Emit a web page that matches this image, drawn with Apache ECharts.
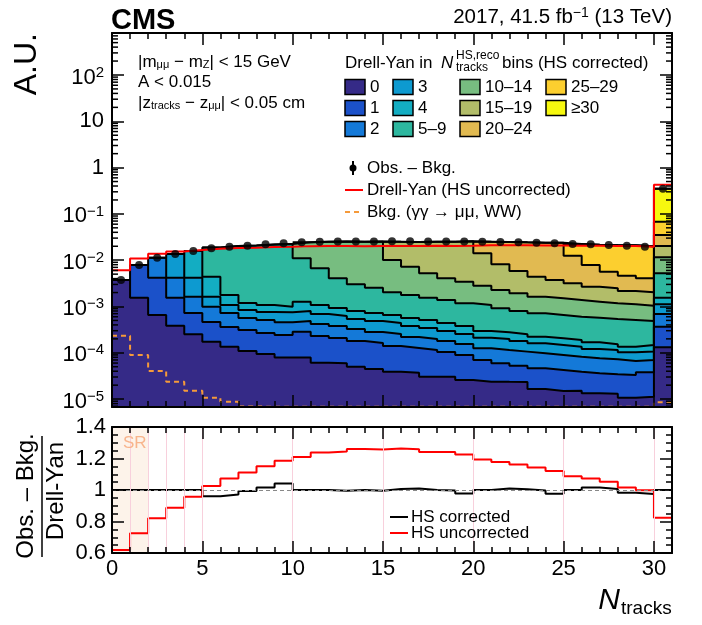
<!DOCTYPE html>
<html><head><meta charset="utf-8">
<script src="https://cdn.jsdelivr.net/npm/echarts@6/dist/echarts.min.js"></script>
<style>html,body{margin:0;padding:0;background:#fff}#c{width:702px;height:625px}</style>
</head><body><div id="c"></div>
<script>
// ---------------- data ----------------
const binLowEdges = [0,1,2,3,4,5,6,7,8,9,10,11,12,13,14,15,16,17,18,19,20,21,22,23,24,25,26,27,28,29,30];
const categoryNames = ['0','1','2','3','4','5–9','10–14','15–19','20–24','25–29','≥30'];
const categoryFirstBin = [0,1,2,3,4,5,10,15,20,25,30];
// upper edge of the stack after adding each category (starting at its first bin)
const stackTop0 = [3.73e-3,1.55e-3,6.55e-4,3.85e-4,2.51e-4,1.74e-4,1.355e-4,1.094e-4,9.42e-5,7.91e-5,7.88e-5,6.11e-5,5.93e-5,5.01e-5,4.47e-5,3.91e-5,3.72e-5,3.05e-5,3.02e-5,2.59e-5,2.38e-5,2.36e-5,2.35e-5,1.65e-5,1.50e-5,1.52e-5,1.33e-5,1.31e-5,1.07e-5,1.13e-5,1.315e-4];
const stackTop1 = [7.87e-3,4.19e-3,1.55e-3,7.24e-4,4.62e-4,3.61e-4,3.11e-4,2.68e-4,2.42e-4,2.86e-4,2.31e-4,2.09e-4,1.80e-4,1.63e-4,1.40e-4,1.27e-4,1.15e-4,1.04e-4,8.96e-5,6.98e-5,5.93e-5,5.26e-5,4.62e-5,4.25e-5,3.91e-5,3.61e-5,3.43e-5,3.32e-5,3.79e-5,3.66e-4];
const stackTop2 = [1.132e-2,4.19e-3,1.63e-3,9.9e-4,7.24e-4,5.65e-4,5.11e-4,4.56e-4,4.86e-4,4.19e-4,3.79e-4,3.27e-4,2.81e-4,2.55e-4,2.19e-4,1.99e-4,1.80e-4,1.55e-4,1.25e-4,1.15e-4,1.06e-4,9.75e-5,8.96e-5,8.24e-5,7.6e-5,7.24e-5,6.65e-5,6.98e-5,6.89e-4];
const stackTop3 = [1.361e-2,4.19e-3,1.63e-3,1.077e-3,8.4e-4,7.6e-4,7.5e-4,8.0e-4,6.89e-4,6.24e-4,5.37e-4,4.86e-4,4.40e-4,3.79e-4,3.43e-4,2.96e-4,2.55e-4,2.12e-4,1.99e-4,1.80e-4,1.60e-4,1.47e-4,1.355e-4,1.21e-4,1.15e-4,1.025e-4,1.06e-4,1.116e-3];
const stackTop4 = [1.58e-2,4.40e-3,1.77e-3,1.19e-3,1.077e-3,9.9e-4,1.27e-3,1.077e-3,9.29e-4,8.0e-4,7.24e-4,6.55e-4,5.65e-4,5.11e-4,4.40e-4,3.79e-4,2.96e-4,2.77e-4,2.51e-4,2.23e-4,2.06e-4,1.89e-4,1.69e-4,1.53e-4,1.355e-4,1.47e-4,1.55e-3];
const stackTop5 = [1.88e-2,2.014e-2,2.07e-2,2.17e-2,2.226e-2,1.099e-2,6.68e-3,4.06e-3,3.01e-3,2.55e-3,2.03e-3,1.77e-3,1.55e-3,1.38e-3,1.17e-3,1.077e-3,9.14e-4,8.0e-4,7.13e-4,6.55e-4,6.02e-4,5.73e-4,5.37e-4,5.11e-4,4.86e-4,5.21e-3];
const stackTop6 = [2.436e-2,2.51e-2,2.52e-2,2.51e-2,2.52e-2,1.01e-2,7.24e-3,5.21e-3,4.06e-3,3.43e-3,2.81e-3,2.27e-3,1.93e-3,1.63e-3,1.50e-3,1.38e-3,1.27e-3,1.17e-3,1.116e-3,1.04e-3,1.155e-2];
const stackTop7 = [2.495e-2,2.485e-2,2.51e-2,2.517e-2,2.567e-2,1.41e-2,8.15e-3,5.85e-3,4.40e-3,3.73e-3,3.17e-3,2.68e-3,2.47e-3,2.16e-3,2.03e-3,2.03e-2];
const stackTop8 = [2.51e-2,2.485e-2,2.426e-2,2.387e-2,2.377e-2,1.25e-2,7.87e-3,5.65e-3,4.62e-3,4.06e-3,3.50e-2];
const stackTop9 = [2.24e-2,2.165e-2,2.117e-2,2.098e-2,2.012e-2,6.79e-2];
const stackTop10 = [0.35];
const obsMinusBkg = [3.73e-3,7.87e-3,1.132e-2,1.361e-2,1.58e-2,1.807e-2,1.958e-2,2.056e-2,2.205e-2,2.317e-2,2.436e-2,2.50e-2,2.52e-2,2.53e-2,2.54e-2,2.55e-2,2.55e-2,2.54e-2,2.53e-2,2.52e-2,2.50e-2,2.48e-2,2.436e-2,2.38e-2,2.32e-2,2.24e-2,2.2e-2,2.13e-2,2.06e-2,1.96e-2,0.35];
const dyUncorrected = [6.03e-3,1.086e-2,1.38e-2,1.534e-2,1.651e-2,1.761e-2,1.825e-2,1.851e-2,1.916e-2,1.955e-2,2.013e-2,2.02e-2,2.026e-2,2.006e-2,2.02e-2,2.02e-2,2.025e-2,2.045e-2,2.037e-2,2.057e-2,2.094e-2,2.105e-2,2.096e-2,2.082e-2,2.071e-2,2.059e-2,2.05e-2,2.025e-2,2.028e-2,1.962e-2,0.425];
const bkgGammaWW = [2.34e-4,8.96e-5,4.05e-5,2.38e-5,1.52e-5,1.07e-5,8.8e-6,6.9e-6,6.85e-6,6.8e-6,6.8e-6,6.8e-6,6.8e-6,6.8e-6,6.8e-6,6.8e-6,6.8e-6,6.8e-6,6.8e-6,6.8e-6,6.8e-6,6.8e-6,6.8e-6,6.8e-6,6.8e-6,6.8e-6,6.8e-6,6.8e-6,6.8e-6,6.8e-6,8.5e-6];
const ratioCorrected = [1,1,1,1,1,0.961,0.972,0.993,1.016,1.041,1.0,1.0,0.995,1.0,0.995,1.006,1.01,1.0,0.997,0.978,1.0,1.01,1.004,0.997,0.976,1.0,1.016,1.006,0.982,0.974,1.0];
const ratioUncorrected = [0.619,0.725,0.82,0.887,0.957,1.026,1.073,1.111,1.151,1.185,1.21,1.238,1.244,1.261,1.257,1.263,1.259,1.242,1.242,1.225,1.194,1.178,1.162,1.143,1.12,1.088,1.073,1.052,1.016,0.999,0.824];
const regionLines = [1,2,3,4,5,10,15,20,25,30];
const srRange = [0,2];

// ---------------- styles ----------------
const FONT = '"Liberation Sans", Arial, Helvetica, sans-serif';
const categoryColors = ['#352a87','#1b51c9','#1479d8','#0d9ad0','#13adc2','#2db79f','#77bd80','#b2bd69','#e1ba51','#fccf2f','#f7f80f'];
const Y_MIN = 6.75e-6, Y_MAX = 807;
const stackTops = [stackTop0,stackTop1,stackTop2,stackTop3,stackTop4,stackTop5,stackTop6,stackTop7,stackTop8,stackTop9,stackTop10];

function stepData(first, vals){
  const d = vals.map((v,i)=>[binLowEdges[first+i], v]);
  d.push([binLowEdges[first+vals.length-1]+1, vals[vals.length-1]]);
  return d;
}
const stackTotal = binLowEdges.map(b=>{
  let k=0; for(let j=0;j<categoryFirstBin.length;j++) if(categoryFirstBin[j]<=b) k=j;
  return stackTops[k][b-categoryFirstBin[k]];
});

const series = [];
for(let k=stackTops.length-1;k>=0;k--){
  series.push({type:'line', xAxisIndex:0, yAxisIndex:0, step:'end', symbol:'none', silent:true,
    data: stepData(categoryFirstBin[k], stackTops[k]),
    lineStyle:{color:'#000', width:2}, areaStyle:{color:categoryColors[k], opacity:1, origin:'start'}, z:2});
}
series.push({type:'line', xAxisIndex:0, yAxisIndex:0, step:'end', symbol:'none', data: stepData(0, stackTotal), lineStyle:{color:'#000', width:2}, z:3});
series.push({type:'line', xAxisIndex:0, yAxisIndex:0, step:'end', symbol:'none', data: stepData(0, bkgGammaWW), lineStyle:{color:'#f59a3a', width:2, type:[5,4]}, z:4});
series.push({type:'line', xAxisIndex:0, yAxisIndex:0, step:'end', symbol:'none', data: stepData(0, dyUncorrected), lineStyle:{color:'#ff0000', width:2}, z:5});
series.push({type:'scatter', xAxisIndex:0, yAxisIndex:0, symbol:'circle', symbolSize:8, itemStyle:{color:'#000'},
  data: obsMinusBkg.map((v,i)=>[binLowEdges[i]+0.5, v]), z:6});
// ratio panel
series.push({type:'line', xAxisIndex:1, yAxisIndex:2, data:[], symbol:'none', z:1,
  markArea:{silent:true, itemStyle:{color:'#fdf3ea'}, data:[[{xAxis:srRange[0]},{xAxis:srRange[1]}]]},
  markLine:{silent:true, symbol:'none', label:{show:false}, lineStyle:{color:'#f8d0dc', width:1, type:'solid'},
    data: regionLines.map(x=>({xAxis:x}))}});
series.push({type:'line', xAxisIndex:1, yAxisIndex:2, data:[], symbol:'none', z:1,
  markLine:{silent:true, symbol:'none', label:{show:false}, lineStyle:{color:'#888', width:1, type:[4,3]}, data:[{yAxis:1}]}});
series.push({type:'line', xAxisIndex:1, yAxisIndex:2, step:'end', symbol:'none', data: stepData(0, ratioCorrected), lineStyle:{color:'#000', width:2}, z:3});
series.push({type:'line', xAxisIndex:1, yAxisIndex:2, step:'end', symbol:'none', data: stepData(0, ratioUncorrected), lineStyle:{color:'#ff0000', width:2}, z:4});

const tickStyle = {color:'#000', width:1.5};
function xAx(grid, pos, labels){
  return {gridIndex:grid, type:'value', min:0, max:31, interval:5, position:pos, z:10,
    axisLine:{onZero:false, lineStyle:{color:'#000', width:2}},
    axisTick:{inside:true, length:12, lineStyle:tickStyle},
    minorTick:{show:true, splitNumber:5, length:6, lineStyle:tickStyle},
    splitLine:{show:false}, minorSplitLine:{show:false},
    axisLabel:{show:labels, showMaxLabel:false, fontSize:22, fontFamily:FONT, color:'#000', margin:5}};
}
function logAx(pos, labels){
  return {gridIndex:0, type:'log', logBase:10, min:Y_MIN, max:Y_MAX, splitNumber:8, position:pos, z:10,
    axisLine:{onZero:false, lineStyle:{color:'#000', width:2}},
    axisTick:{inside:true, length:12, lineStyle:tickStyle},
    splitLine:{show:false},
    axisLabel:{show:labels, showMinLabel:false, showMaxLabel:false, fontSize:22, fontFamily:FONT, color:'#000', margin:8,
      formatter:v=>{ const e=Math.log10(v); const r=Math.round(e); if(Math.abs(e-r)>1e-6) return '';
        if(r===0) return '1'; if(r===1) return '10'; return '{b|10}{s|'+(r<0?'−'+(-r):r)+'}'; },
      rich:{b:{fontSize:22, fontFamily:FONT, color:'#000', lineHeight:24, padding:[5,0,0,0]},
            s:{fontSize:15, fontFamily:FONT, color:'#000', lineHeight:16, verticalAlign:'top', padding:[2,0,0,0]}}}};
}
function ratioAx(pos, labels){
  return {gridIndex:1, type:'value', min:0.6, max:1.4, interval:0.2, position:pos, z:10,
    axisLine:{onZero:false, lineStyle:{color:'#000', width:2}},
    axisTick:{inside:true, length:12, lineStyle:tickStyle},
    minorTick:{show:true, splitNumber:4, length:6, lineStyle:tickStyle},
    splitLine:{show:false}, minorSplitLine:{show:false},
    axisLabel:{show:labels, fontSize:22, fontFamily:FONT, color:'#000', margin:6,
      formatter:v=> Math.abs(v-1)<1e-9 ? '1' : v.toFixed(1)}};
}

const option = {
  animation:false, backgroundColor:'#fff', textStyle:{fontFamily:FONT},
  grid:[{left:112, right:30, top:33, height:374},{left:112, right:30, top:427, height:126}],
  xAxis:[xAx(0,'bottom',false), xAx(1,'bottom',true), xAx(0,'top',false), xAx(1,'top',false)],
  yAxis:[logAx('left',true), logAx('right',false), ratioAx('left',true), ratioAx('right',false)],
  series
};
const chart = echarts.init(document.getElementById('c'), null, {renderer:'canvas'});
chart.setOption(option);

// ---------------- annotations ----------------
function T(x,y,text,size,o){ o=o||{};
  return {type:'text', x, y, rotation:o.rot||0, z:100, silent:true,
    style:{text, fontSize:size, fontFamily:FONT, fill:o.fill||'#000', fontWeight:o.bold?'bold':'normal', fontStyle:o.italic?'italic':'normal',
      align:o.align||'left', verticalAlign:o.va||'middle', rich:o.rich, lineHeight:o.lh}};
}
const subRich = {b:{fontSize:11, fontFamily:FONT, fill:'#000', verticalAlign:'bottom', padding:[6,0,0,0]}};
const g = [];
g.push(T(111,6,'CMS',29,{bold:true, va:'top'}));
g.push(T(672,17,'2017, 41.5 fb{s|−1} (13 TeV)',20.5,{align:'right', rich:{s:{fontSize:14, fontFamily:FONT, fill:'#000', verticalAlign:'top', padding:[0,0,8,0]}}}));
g.push(T(27,33,'A.U.',32,{rot:Math.PI/2, align:'right'}));
g.push(T(26,496,'Obs. – Bkg.',24,{rot:Math.PI/2, align:'center'}));
g.push(T(56,491,'Drell-Yan',24,{rot:Math.PI/2, align:'center'}));
g.push({type:'line', z:100, shape:{x1:42,y1:436,x2:42,y2:557}, style:{stroke:'#000', lineWidth:1.5}});
g.push(T(620,616,'N',30,{italic:true, align:'right', va:'bottom'}));
g.push(T(621,618,'tracks',19,{va:'bottom'}));
// cut text
g.push(T(138,62,'|m{b|μμ} − m{b|Z}| < 15 GeV',17,{rich:subRich}));
g.push(T(138,82,'A < 0.015',17));
g.push(T(138,103,'|z{b|tracks} − z{b|μμ}| < 0.05 cm',17,{rich:subRich}));
// legend header
g.push(T(345,63,'Drell-Yan in ',17));
g.push(T(441,63,'N',17,{italic:true}));
g.push(T(456,56,'HS,reco',12));
g.push(T(456,68,'tracks',12));
g.push(T(502,63,'bins (HS corrected)',17));
const legCols = [345,393,460,546];
const legRows = [87,108,129];
const legLayout = [[0,0],[0,1],[0,2],[1,0],[1,1],[1,2],[2,0],[2,1],[2,2],[3,0],[3,1]];
legLayout.forEach(([c,r],k)=>{
  g.push({type:'rect', z:100, shape:{x:legCols[c], y:legRows[r]-7.5, width:20, height:15}, style:{fill:categoryColors[k], stroke:'#000', lineWidth:1.5}});
  g.push(T(legCols[c]+25, legRows[r], categoryNames[k], 17));
});
// second legend
g.push({type:'line', z:100, shape:{x1:353,y1:161,x2:353,y2:175}, style:{stroke:'#000', lineWidth:2}});
g.push({type:'circle', z:100, shape:{cx:353,cy:168,r:3.5}, style:{fill:'#000'}});
g.push(T(367,168,'Obs. – Bkg.',17));
g.push({type:'line', z:100, shape:{x1:345,y1:190,x2:363,y2:190}, style:{stroke:'#ff0000', lineWidth:2}});
g.push(T(367,190,'Drell-Yan (HS uncorrected)',17));
g.push({type:'line', z:100, shape:{x1:345,y1:212,x2:363,y2:212}, style:{stroke:'#f59a3a', lineWidth:2, lineDash:[5,4]}});
g.push(T(367,212,'Bkg. (γγ → μμ, WW)',17));
// ratio legend
g.push({type:'line', z:100, shape:{x1:390,y1:517,x2:408,y2:517}, style:{stroke:'#000', lineWidth:2}});
g.push(T(411,517,'HS corrected',17));
g.push({type:'line', z:100, shape:{x1:390,y1:533,x2:408,y2:533}, style:{stroke:'#ff0000', lineWidth:2}});
g.push(T(411,533,'HS uncorrected',17));
g.push(T(123,443,'SR',17,{fill:'#f8b48c'}));
// log minor ticks
const xl = chart.convertToPixel({xAxisIndex:0}, 0), xr = chart.convertToPixel({xAxisIndex:0}, 31);
for(let d=-6; d<=2; d++) for(let m=2; m<=9; m++){
  const v = m*Math.pow(10,d); if(v<=Y_MIN || v>=Y_MAX) continue;
  const py = chart.convertToPixel({yAxisIndex:0}, v);
  g.push({type:'line', z:100, silent:true, shape:{x1:xl,y1:py,x2:xl+6,y2:py}, style:{stroke:'#000', lineWidth:1.5}});
  g.push({type:'line', z:100, silent:true, shape:{x1:xr-6,y1:py,x2:xr,y2:py}, style:{stroke:'#000', lineWidth:1.5}});
}
chart.setOption({graphic:g});
</script></body></html>
